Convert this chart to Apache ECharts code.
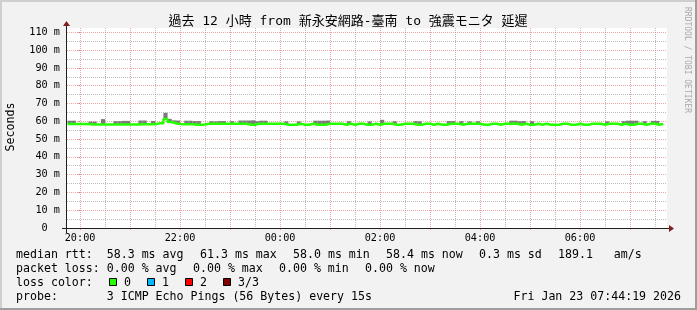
<!DOCTYPE html>
<html><head><meta charset="utf-8">
<script src="https://cdn.jsdelivr.net/npm/echarts@6/dist/echarts.min.js"></script>
<style>html,body{margin:0;padding:0;background:#f2f2f2}#c{width:697px;height:310px}</style>
</head><body><div id="c"></div>
<script>
// ---------- data ----------
const titleText = '過去 12 小時 from 新永安網路-臺南 to 強震モニタ 延遲';
const yAxisName = 'Seconds';
const watermark = 'RRDTOOL / TOBI OETIKER';
// x in minutes relative to 20:00; window 19:44:19 .. 07:44:19
const xMin = -15.683, xMax = 704.317;
const sampleStart = -15, sampleStep = 5;   // 5-minute samples from 19:45
const xLabelValues = [0, 120, 240, 360, 480, 600];
const xLabels = ['20:00', '22:00', '00:00', '02:00', '04:00', '06:00'];
const xMajorValues = [0, 60, 120, 180, 240, 300, 360, 420, 480, 540, 600, 660];
const xMinorValues = [30, 90, 150, 210, 270, 330, 390, 450, 510, 570, 630, 690];
const yMin = 0, yMax = 112.4;
const yLabelValues = [0, 10, 20, 30, 40, 50, 60, 70, 80, 90, 100, 110];
const yMinorValues = [5, 15, 25, 35, 45, 55, 65, 75, 85, 95, 105];
// median rtt (ms), loss 0 everywhere
const medianRtt = [
  58.4,58.4,58.4,58.4,58.4,58.4,58.2,58.2,58.2,58.2,
  58.2,58.2,58.2,58.2,58.2,58.2,58.2,58.2,58.3,58.3,
  58.3,58.3,58.8,58.9,61.3,59.6,58.9,58.4,58.3,58.3,
  58.3,58.0,58.0,58.2,58.6,58.6,58.6,58.6,58.6,58.6,
  58.6,58.6,58.6,58.6,58.0,58.0,58.6,58.6,58.6,58.6,
  58.6,58.6,58.6,58.0,58.0,58.0,58.6,58.0,58.0,58.6,
  58.0,58.0,58.0,58.6,58.6,58.6,58.6,58.0,58.6,58.0,
  58.6,58.6,58.0,58.0,58.6,58.0,58.6,58.6,58.6,58.0,
  58.0,58.6,58.6,58.6,58.0,58.0,58.6,58.6,58.0,58.6,
  58.0,58.0,58.6,58.6,58.6,58.0,58.6,58.6,58.6,58.6,
  58.0,58.0,58.6,58.6,58.0,58.6,58.6,58.6,58.6,58.0,
  58.6,58.0,58.0,58.6,58.0,58.6,58.0,58.0,58.0,58.6,
  58.6,58.0,58.0,58.6,58.0,58.0,58.6,58.6,58.6,58.0,
  58.6,58.6,58.6,58.0,58.6,58.0,58.0,58.6,58.6,58.0,
  58.6,58.6,58.0,58.4
];
// samples where the ping smoke rises visibly above the median (sample index, highest ping ms)
const smokeIndex = [1,2,6,7,9,12,13,14,15,18,19,21,24,25,26,27,29,30,31,32,35,36,37,38,40,42,43,44,45,46,47,48,53,56,60,61,62,63,68,73,76,79,84,85,92,93,95,97,99,107,108,109,110,112,130,134,135,136,137,139,141,142];
const smokeTop   = [60.3,60.3,59.8,59.8,61.2,60.0,60.0,60.2,60.2,60.4,60.4,60.1,64.7,61.3,60.5,60.4,60.3,60.3,60.1,60.1,60.0,59.9,60.1,60.1,60.0,60.4,60.4,60.4,60.5,60.0,60.3,60.3,59.9,59.9,60.3,60.3,60.3,60.4,60.0,59.9,60.8,60.0,60.0,60.0,60.1,60.1,60.0,59.9,60.0,60.3,60.3,60.0,60.1,60.0,59.9,60.0,60.3,60.3,60.3,60.0,60.2,60.2];
// legend rows
const medianLabel = 'median rtt:  58.3 ms avg';
const medianStats = ['61.3 ms max', '58.0 ms min', '58.4 ms now', '0.3 ms sd', '189.1   am/s'];
const lossLabel = 'packet loss: 0.00 % avg';
const lossStats = ['0.00 % max', '0.00 % min', '0.00 % now'];
const lossColorLabel = 'loss color:';
const lossColorNames = ['0', '1', '2', '3/3'];
const lossColors = ['#26ff00', '#00b8ff', '#ff0000', '#7e0000'];
const probeText = 'probe:       3 ICMP Echo Pings (56 Bytes) every 15s';
const dateText = 'Fri Jan 23 07:44:19 2026';

// ---------- chart ----------
const MONO = '"DejaVu Sans Mono"';
const LF = '11.6px ' + MONO;
const chart = echarts.init(document.getElementById('c'), null, {renderer: 'canvas', width: 697, height: 310});

const medianData = medianRtt.map((v, i) => [sampleStart + i * sampleStep, v]);
const smokeData = smokeIndex.map((k, j) => [sampleStart + k * sampleStep, medianRtt[k], smokeTop[j]]);

const MGRID = 'rgba(222,79,79,0.5)';
const GRID = 'rgba(143,143,143,0.6)';

const graphics = [
  {type: 'rect', shape: {x: 0, y: 0, width: 697, height: 2}, style: {fill: '#cfcfcf'}, z: 1},
  {type: 'rect', shape: {x: 0, y: 0, width: 2, height: 310}, style: {fill: '#cfcfcf'}, z: 1},
  {type: 'rect', shape: {x: 0, y: 308, width: 697, height: 2}, style: {fill: '#9e9e9e'}, z: 1},
  {type: 'rect', shape: {x: 695, y: 0, width: 2, height: 310}, style: {fill: '#9e9e9e'}, z: 1},
  // axes with rrdtool overhang and arrows
  {type: 'line', shape: {x1: 62, y1: 228.5, x2: 670, y2: 228.5}, style: {stroke: '#1f1f1f', lineWidth: 1}, z: 50},
  {type: 'line', shape: {x1: 66.5, y1: 233, x2: 66.5, y2: 25}, style: {stroke: '#1f1f1f', lineWidth: 1}, z: 50},
  {type: 'polygon', shape: {points: [[669, 225], [669, 232], [674, 228.5]]}, style: {fill: '#801f1f'}, z: 51},
  {type: 'polygon', shape: {points: [[63, 26], [70, 26], [66.5, 21]]}, style: {fill: '#801f1f'}, z: 51},
  // title, unit, watermark
  {type: 'text', x: 348, y: 21.5, style: {text: titleText, font: '13px ' + MONO + ', "Noto Sans CJK TC"', fill: '#000', align: 'center', verticalAlign: 'middle'}, z: 60},
  {type: 'text', x: 11, y: 127, rotation: Math.PI / 2, style: {text: yAxisName, font: LF, fill: '#000', align: 'center', verticalAlign: 'middle'}, z: 60},
  {type: 'text', x: 687.5, y: 60, rotation: -Math.PI / 2, style: {text: watermark, font: '8px ' + MONO, fill: '#aaaaaa', align: 'center', verticalAlign: 'middle'}, z: 60}
];
function addText(t, x, y, align) {
  graphics.push({type: 'text', x: x, y: y, style: {text: t, font: LF, fill: '#000', align: align || 'left', verticalAlign: 'middle'}, z: 60});
}
const row1 = 254.5, row2 = 268.5, row3 = 282.5, row4 = 296.5;
addText(medianLabel, 16, row1);
let px = 16 + medianLabel.length * 7 + 16;
medianStats.forEach(s => { addText(s, px, row1); px += s.length * 7 + 16; });
addText(lossLabel, 16, row2);
px = 16 + lossLabel.length * 7 + 16;
lossStats.forEach(s => { addText(s, px, row2); px += s.length * 7 + 16; });
addText(lossColorLabel, 16, row3);
px = 16 + lossColorLabel.length * 7 + 16;
lossColorNames.forEach((n, i) => {
  graphics.push({type: 'rect', shape: {x: px + 0.5, y: row3 - 4, width: 7, height: 7}, style: {fill: lossColors[i], stroke: '#000', lineWidth: 1}, z: 60});
  addText(n, px + 15, row3);
  px += 15 + n.length * 7 + 16;
});
addText(probeText, 16, row4);
addText(dateText, 681, row4, 'right');

const option = {
  animation: false,
  backgroundColor: '#f2f2f2',
  grid: {left: 67, top: 28, width: 600, height: 200, show: true, backgroundColor: '#ffffff', borderWidth: 0},
  xAxis: [
    {type: 'value', min: xMin, max: xMax,
     axisLine: {show: false},
     axisTick: {show: true, customValues: xMajorValues, length: 2, lineStyle: {color: MGRID}},
     axisLabel: {customValues: xLabelValues, formatter: v => xLabels[xLabelValues.indexOf(v)], fontFamily: 'DejaVu Sans Mono', fontSize: 10.2, color: '#000', margin: 5},
     splitLine: {show: true, lineStyle: {color: MGRID, type: [1, 1], width: 1}}},
    {type: 'value', min: xMin, max: xMax, position: 'bottom',
     axisLine: {show: false},
     axisTick: {show: false, customValues: xMinorValues},
     axisLabel: {show: false},
     splitLine: {show: true, lineStyle: {color: GRID, type: [1, 1], width: 1}}}
  ],
  yAxis: [
    {type: 'value', min: yMin, max: yMax,
     axisLine: {show: false},
     axisTick: {show: true, customValues: yLabelValues, length: 2, lineStyle: {color: MGRID}},
     axisLabel: {customValues: yLabelValues, formatter: v => v === 0 ? '0  ' : v + ' m', fontFamily: 'DejaVu Sans Mono', fontSize: 10.2, color: '#000', margin: 7},
     splitLine: {show: true, lineStyle: {color: MGRID, type: [1, 1], width: 1}}},
    {type: 'value', min: yMin, max: yMax, position: 'left',
     axisLine: {show: false},
     axisTick: {show: false, customValues: yMinorValues},
     axisLabel: {show: false},
     splitLine: {show: true, lineStyle: {color: GRID, type: [1, 1], width: 1}}}
  ],
  series: [
    {type: 'custom', xAxisIndex: 0, yAxisIndex: 0, clip: true, z: 3, data: smokeData,
     renderItem: function (params, api) {
       const t = api.value(0), lo = api.value(1), hi = api.value(2);
       const a = api.coord([t - sampleStep, hi]);
       const b = api.coord([t, lo]);
       return {type: 'rect', shape: {x: a[0], y: a[1], width: b[0] - a[0], height: b[1] - a[1]}, style: {fill: '#7a7a7a'}};
     }},
    {type: 'line', xAxisIndex: 0, yAxisIndex: 0, data: medianData, step: 'start', showSymbol: false, z: 4,
     lineStyle: {color: lossColors[0], width: 2.5}, clip: true}
  ],
  graphic: graphics
};
chart.setOption(option);
</script>
</body></html>
